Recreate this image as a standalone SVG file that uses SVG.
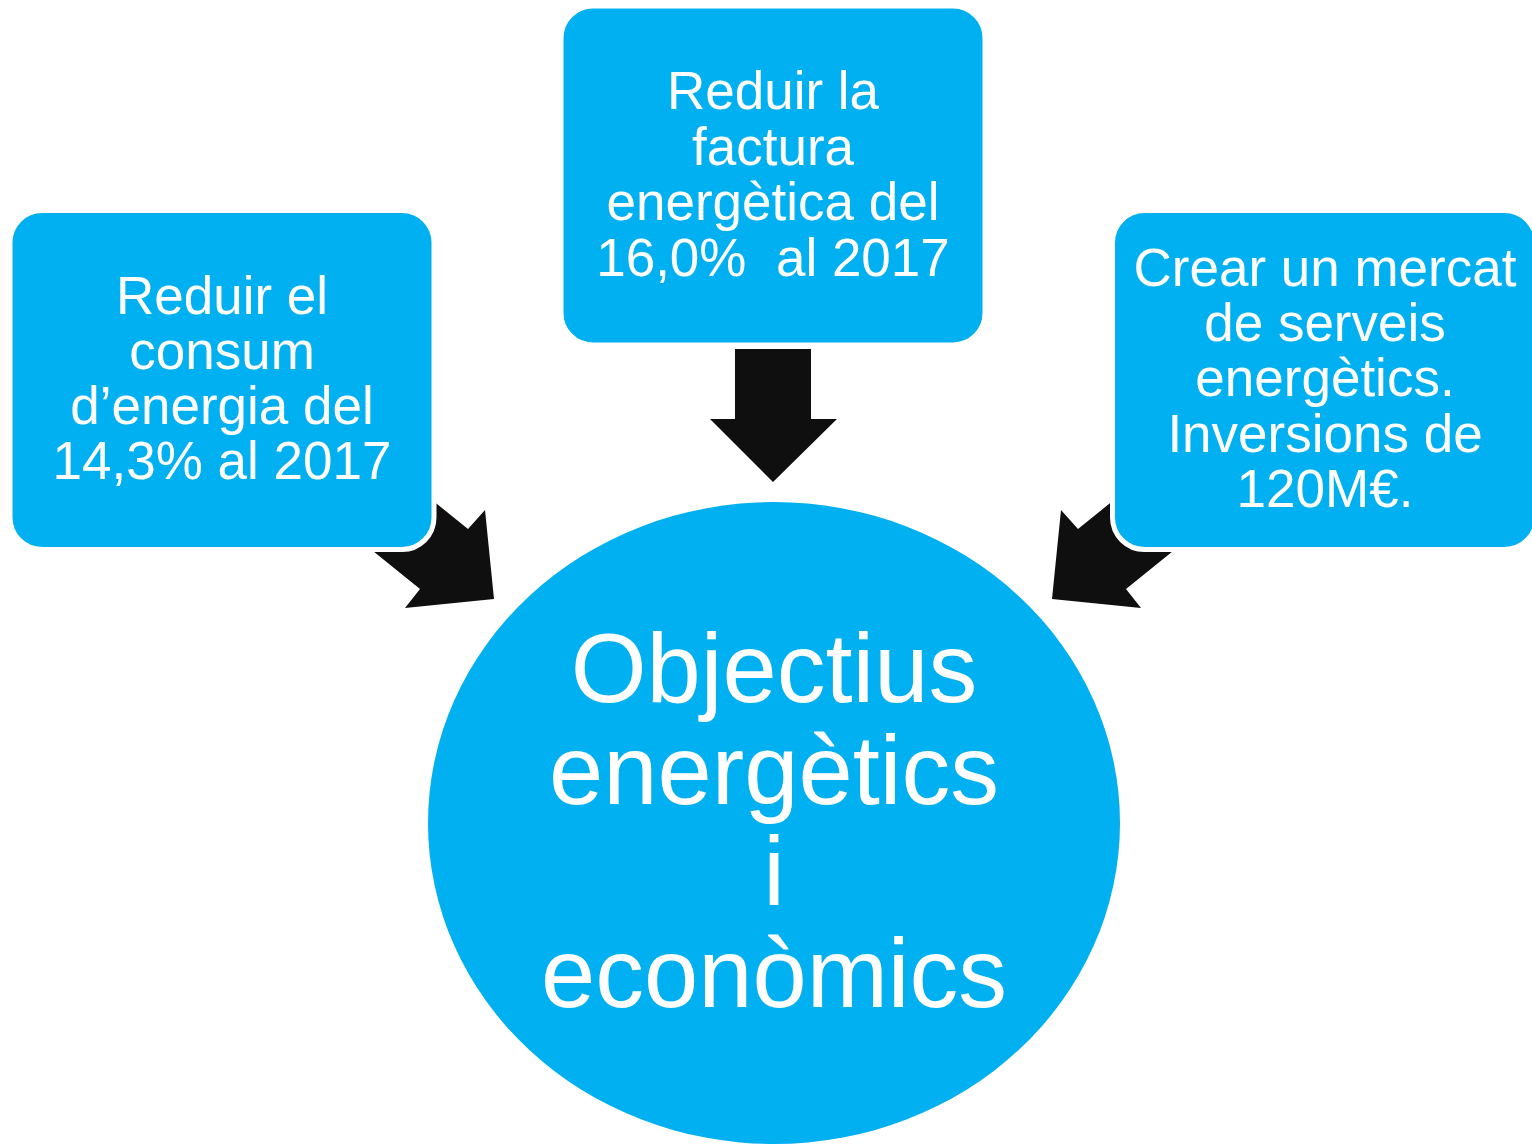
<svg xmlns="http://www.w3.org/2000/svg" width="1532" height="1144" viewBox="0 0 1532 1144">
  <style>
    .box { fill: #00B0F0; stroke: #FFFFFF; stroke-width: 5; }
    .arrow { fill: #0F0F0F; stroke: none; }
    .t { font-family: "Liberation Sans", Arial, sans-serif; fill: #FFFFFF; text-anchor: middle; }
    .small { font-size: 53px; }
    .big { font-size: 97.5px; }
  </style>
  <rect width="1532" height="1144" fill="#FFFFFF"/>

  <g id="connectors">
    <polygon class="arrow" points="735,349 811,349 811,419 837,419 773,482 710,419 735,419"/>
    <polygon class="arrow" points="390,466 468,529 485,510 494,599 405,608 420,589 342,526"/>
    <polygon class="arrow" points="1156,466 1078,529 1061,510 1052,599 1141,608 1126,589 1204,526"/>
  </g>

  <g id="node-center">
    <ellipse cx="774" cy="823" rx="346" ry="321" fill="#00B0F0"/>
    <text class="t big" x="774" y="702">Objectius</text>
    <text class="t big" x="774" y="803.5">energètics</text>
    <text class="t big" x="774" y="905">i</text>
    <text class="t big" x="774" y="1006.5">econòmics</text>
  </g>

  <g id="node-left">
    <rect class="box" x="10" y="210.5" width="424" height="339" rx="32"/>
    <text class="t small" x="222" y="314">Reduir el</text>
    <text class="t small" x="222" y="369">consum</text>
    <text class="t small" x="222" y="424">d’energia del</text>
    <text class="t small" x="222" y="479">14,3% al 2017</text>
  </g>

  <g id="node-top">
    <rect class="box" x="561" y="6" width="424" height="339" rx="32"/>
    <text class="t small" x="773" y="109" xml:space="preserve">Reduir la</text>
    <text class="t small" x="773" y="165">factura</text>
    <text class="t small" x="773" y="220">energètica del</text>
    <text class="t small" x="773" y="276" xml:space="preserve">16,0%  al 2017</text>
  </g>

  <g id="node-right">
    <rect class="box" x="1112.5" y="210.5" width="424" height="339" rx="32"/>
    <text class="t small" x="1325" y="286">Crear un mercat</text>
    <text class="t small" x="1325" y="341">de serveis</text>
    <text class="t small" x="1325" y="396">energètics.</text>
    <text class="t small" x="1325" y="452">Inversions de</text>
    <text class="t small" x="1325" y="507">120M€.</text>
  </g>
</svg>
